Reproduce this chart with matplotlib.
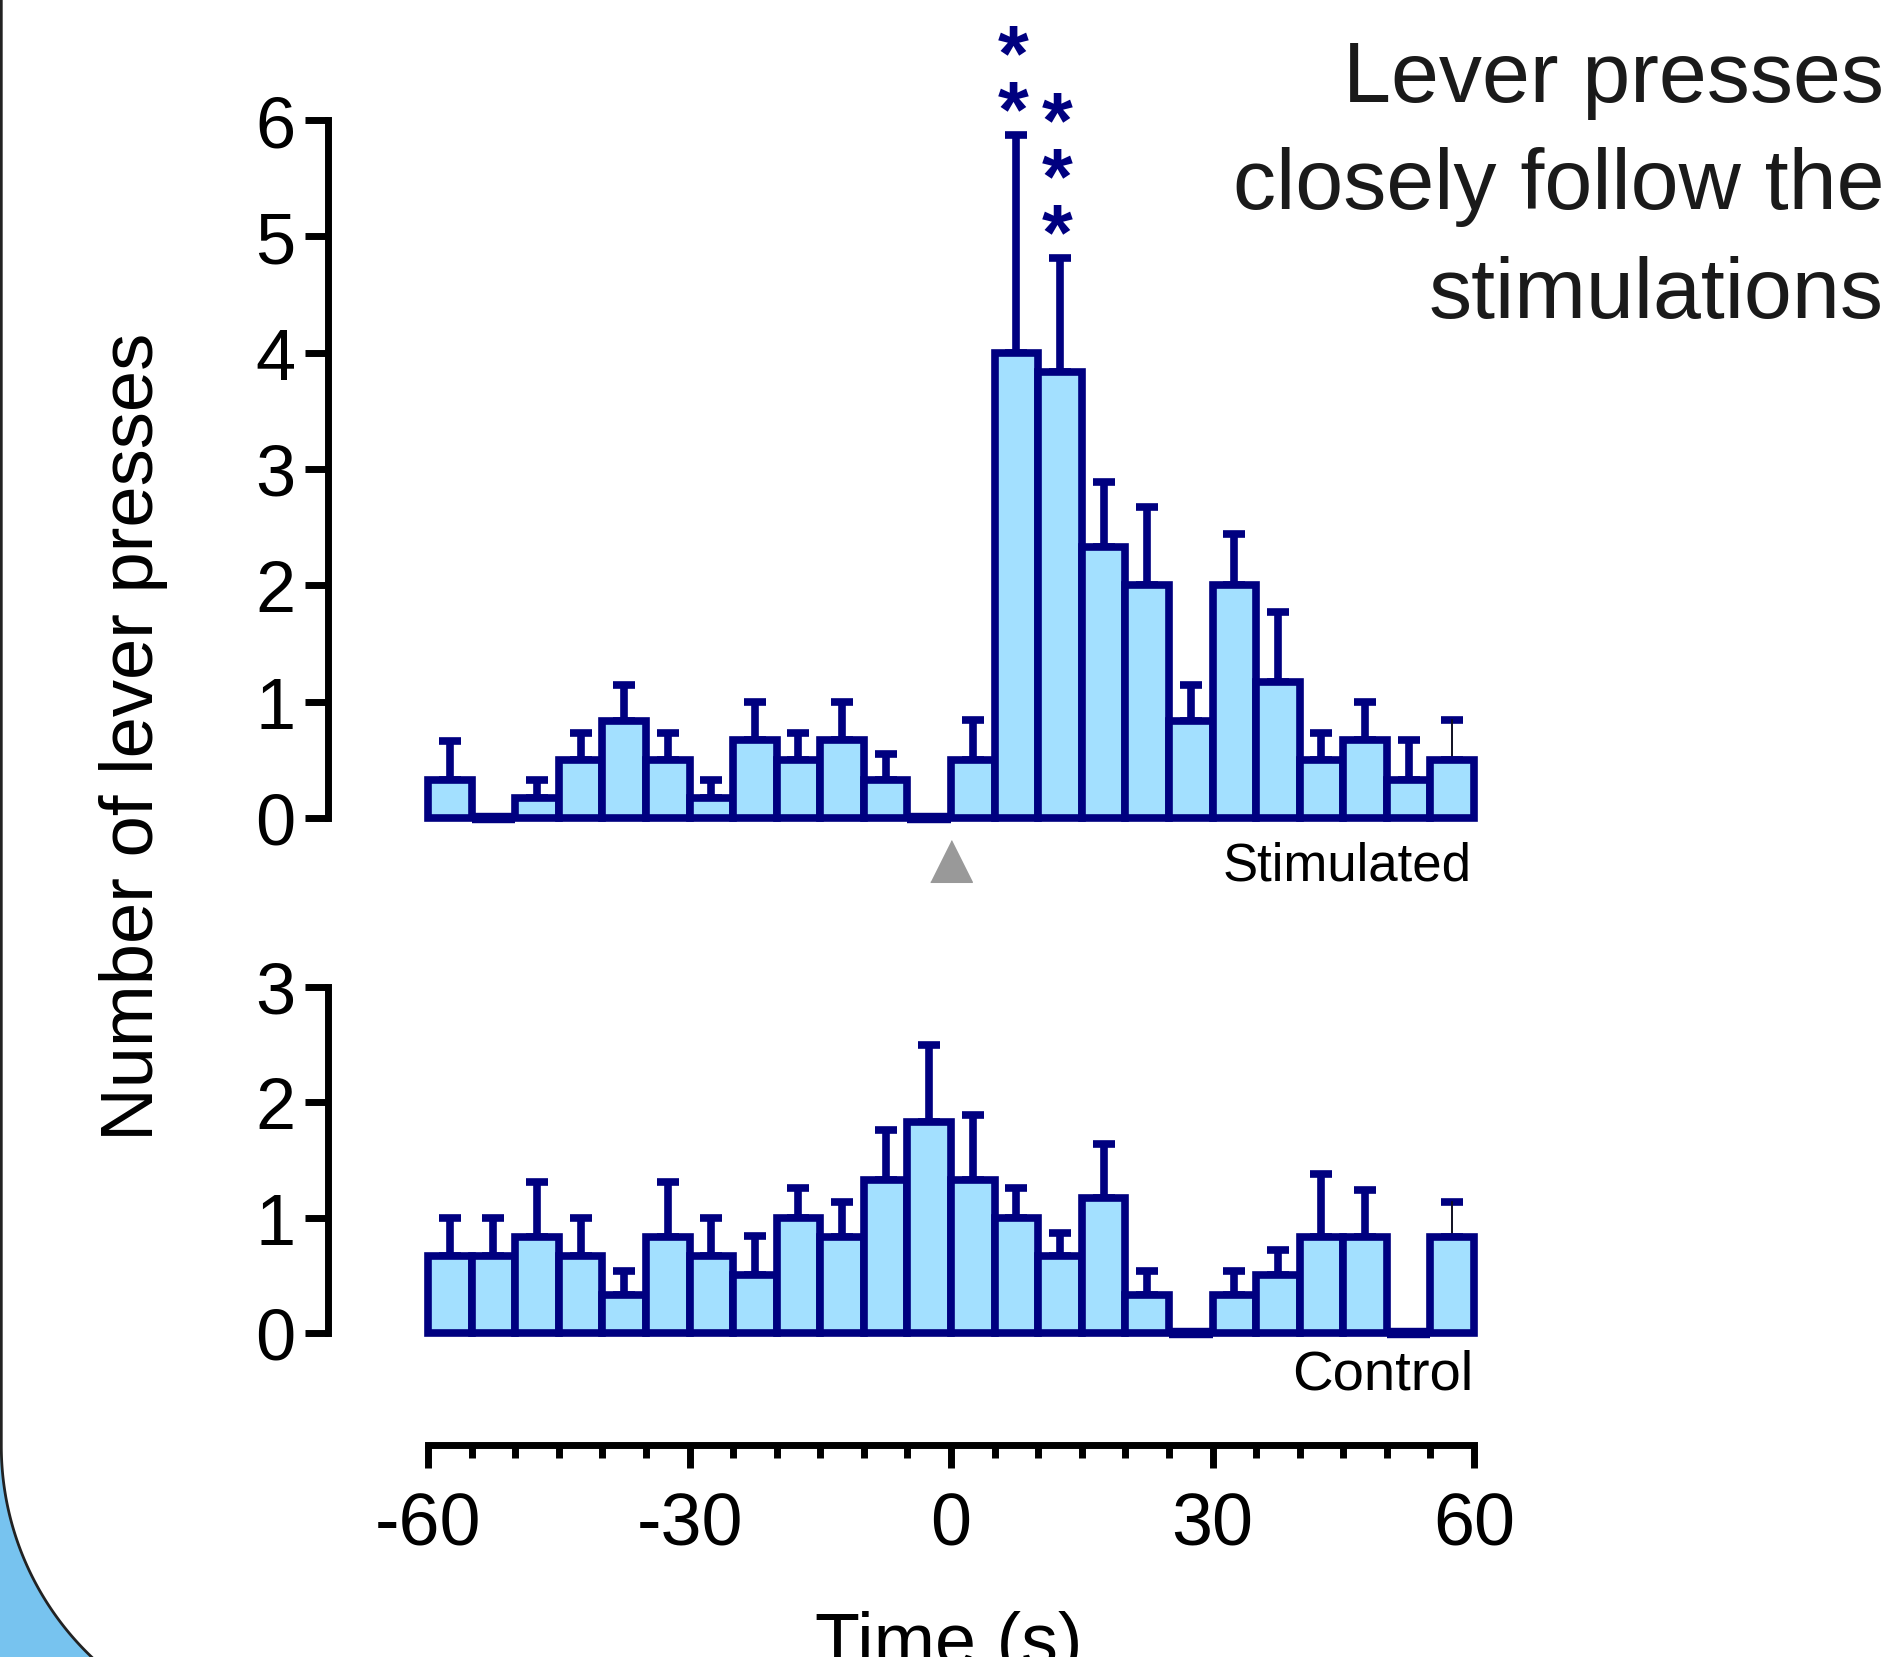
import numpy as np
import matplotlib
matplotlib.use("Agg")
import matplotlib.pyplot as plt
from matplotlib import transforms

plt.rcParams['font.family'] = ['Liberation Sans', 'DejaVu Sans']

# ---------------- data ----------------
BIN_LEFT = [-60, -55, -50, -45, -40, -35, -30, -25, -20, -15, -10, -5,
            0, 5, 10, 15, 20, 25, 30, 35, 40, 45, 50, 55]
BIN_WIDTH = 5

STIM_MEAN = [0.33, 0.0, 0.17, 0.50, 0.83, 0.50, 0.17, 0.67, 0.50, 0.67, 0.33, 0.0,
             0.50, 4.00, 3.83, 2.33, 2.00, 0.83, 2.00, 1.17, 0.50, 0.67, 0.33, 0.50]
STIM_SEM = [0.33, 0.0, 0.16, 0.23, 0.31, 0.23, 0.16, 0.33, 0.23, 0.33, 0.22, 0.0,
            0.34, 1.87, 0.98, 0.56, 0.67, 0.31, 0.44, 0.60, 0.23, 0.33, 0.34, 0.34]

CTRL_MEAN = [0.67, 0.67, 0.83, 0.67, 0.33, 0.83, 0.67, 0.50, 1.00, 0.83, 1.33, 1.83,
             1.33, 1.00, 0.67, 1.17, 0.33, 0.0, 0.33, 0.50, 0.83, 0.83, 0.0, 0.83]
CTRL_SEM = [0.33, 0.33, 0.48, 0.33, 0.21, 0.48, 0.33, 0.34, 0.26, 0.31, 0.43, 0.67,
            0.56, 0.26, 0.20, 0.47, 0.21, 0.0, 0.21, 0.22, 0.55, 0.41, 0.0, 0.31]

SIG_STARS = [0, 0, 0, 0, 0, 0, 0, 0, 0, 0, 0, 0,
             0, 2, 3, 0, 0, 0, 0, 0, 0, 0, 0, 0]

STIM_TIME = 0
TOP_YTICKS = [0, 1, 2, 3, 4, 5, 6]
BOT_YTICKS = [0, 1, 2, 3]
X_MAJOR = [-60, -30, 0, 30, 60]
X_MINOR = [-55, -50, -45, -40, -35, -25, -20, -15, -10, -5,
           5, 10, 15, 20, 25, 35, 40, 45, 50, 55]
TITLE_LINES = ["Lever presses", "closely follow the", "stimulations"]
YLABEL = "Number of lever presses"
XLABEL = "Time (s)"
TOP_TAG = "Stimulated"
BOT_TAG = "Control"

# ---------------- style ----------------
NAVY = "#000080"
FILL = "#A3E0FF"
W, H = 1901, 1658
fig = plt.figure(figsize=(W / 100, H / 100), dpi=100)
fig.patch.set_facecolor("white")


def fx(px):
    return px / W


def fy(py):
    return 1 - py / H


# background decoration (panel border with rounded corner)
ax_bg = fig.add_axes([0, 0, 1, 1], zorder=-10)
ax_bg.set_xlim(0, W)
ax_bg.set_ylim(H, 0)
ax_bg.axis("off")
r, cy = 291.7, 1447
t = np.linspace(0, np.arcsin(min(1.0, 225 / r)), 80)
arc_x = 1.3 + r - r * np.cos(t)
arc_y = cy + r * np.sin(t)
ax_bg.fill(np.concatenate([[0], arc_x, [0]]),
           np.concatenate([[cy], arc_y, [arc_y[-1]]]),
           color="#77C3EF", lw=0)
ax_bg.plot(np.concatenate([[1.3], arc_x]), np.concatenate([[0], arc_y]),
           color="#222222", lw=2.0, solid_capstyle="butt")

x_per_s = (1474 - 428) / 120.0
xleft = -60 - (428 - 328) / x_per_s

left = np.array(BIN_LEFT, dtype=float)
xc = left + BIN_WIDTH / 2


def draw_panel(ax, mean, sem, yticks):
    mean = np.array(mean)
    sem = np.array(sem)
    ax.bar(left, mean, width=BIN_WIDTH, align="edge", color=FILL,
           edgecolor=NAVY, linewidth=5.5, clip_on=False, zorder=3)
    zero = mean == 0
    if zero.any():
        ax.hlines(np.zeros(zero.sum()), left[zero], left[zero] + BIN_WIDTH,
                  colors=NAVY, lw=7.5, zorder=3, clip_on=False)
    mask = sem > 0
    thick = mask.copy()
    thick[-1] = False
    ax.errorbar(xc[thick], mean[thick], yerr=[np.zeros(thick.sum()), sem[thick]],
                fmt="none", ecolor=NAVY, elinewidth=5.5, capsize=8, capthick=5.5,
                zorder=2, clip_on=False)
    if mask[-1]:
        ax.errorbar(xc[-1:], mean[-1:], yerr=[[0], sem[-1:]], fmt="none",
                    ecolor=NAVY, elinewidth=1.2, capsize=8, capthick=5.5,
                    zorder=2, clip_on=False)
        ax.plot([xc[-1], xc[-1]], [mean[-1], mean[-1] + sem[-1]], color="#111111",
                lw=1.2, zorder=2.5, clip_on=False)
    ax.set_xlim(xleft, 60)
    ax.set_ylim(yticks[0], yticks[-1])
    ax.set_yticks(yticks)
    ax.set_xticks([])
    for s in ["top", "right", "bottom"]:
        ax.spines[s].set_visible(False)
    ax.spines["left"].set_linewidth(5)
    ax.spines["left"].set_capstyle("projecting")
    ax.tick_params(axis="y", length=16.5, width=5, pad=7, labelsize=52,
                   direction="out")
    ax.patch.set_alpha(0)


ax_top = fig.add_axes([fx(328), fy(819), fx(1474) - fx(328), (819 - 121) / H])
draw_panel(ax_top, STIM_MEAN, STIM_SEM, TOP_YTICKS)

ax_bot = fig.add_axes([fx(328), fy(1334), fx(1474) - fx(328), (1334 - 988) / H])
draw_panel(ax_bot, CTRL_MEAN, CTRL_SEM, BOT_YTICKS)

# significance stars (one stacked text per bin)
for i, n in enumerate(SIG_STARS):
    if n > 0:
        ax_top.annotate("\n".join(["*"] * n),
                        xy=(xc[i], STIM_MEAN[i] + STIM_SEM[i]),
                        xytext=(-3, -17), textcoords="offset pixels",
                        ha="center", va="bottom", fontsize=57, linespacing=0.67,
                        fontweight="bold", color=NAVY, annotation_clip=False)

# stimulation marker
tr_top = transforms.blended_transform_factory(ax_top.transData, ax_top.transAxes)
ax_top.plot([STIM_TIME], [(819 - 861.5) / 698], transform=tr_top,
            marker=[(-1, -1), (1, -1), (0, 1)], ms=30, color="#999999",
            mec="#999999", clip_on=False, ls="none")

# panel tags
ax_top.text(59.7, (819 - 881) / 698, TOP_TAG, transform=tr_top, ha="right",
            va="baseline", fontsize=38, color="black")
tr_bot = transforms.blended_transform_factory(ax_bot.transData, ax_bot.transAxes)
ax_bot.text(59.9, (1334 - 1390) / 346, BOT_TAG, transform=tr_bot, ha="right",
            va="baseline", fontsize=40.5, color="black")

# shared time axis
ax_x = fig.add_axes([fx(428), fy(1446), fx(1474) - fx(428), 0.0005])
ax_x.set_xlim(-60, 60)
ax_x.set_xticks(X_MAJOR)
ax_x.set_xticklabels([str(v) for v in X_MAJOR])
ax_x.set_xticks(X_MINOR, minor=True)
ax_x.set_yticks([])
for s in ["top", "left", "right"]:
    ax_x.spines[s].set_visible(False)
ax_x.spines["bottom"].set_linewidth(5)
ax_x.tick_params(axis="x", which="major", length=16.5, width=5, pad=16,
                 labelsize=53, direction="out")
ax_x.tick_params(axis="x", which="minor", length=9.5, width=5, direction="out")
ax_x.patch.set_alpha(0)

# labels
fig.text(fx(133), fy(737), YLABEL, rotation=90, ha="center", va="center",
         fontsize=53.5, color="black")
fig.text(fx(949), fy(1665), XLABEL, ha="center", va="baseline", fontsize=53,
         color="black")

for line, base in zip(TITLE_LINES, [102, 209, 318]):
    fig.text(fx(1884), fy(base), line, ha="right", va="baseline", fontsize=62,
             color="#1a1a1a")

fig.savefig("out.png", dpi=100)
